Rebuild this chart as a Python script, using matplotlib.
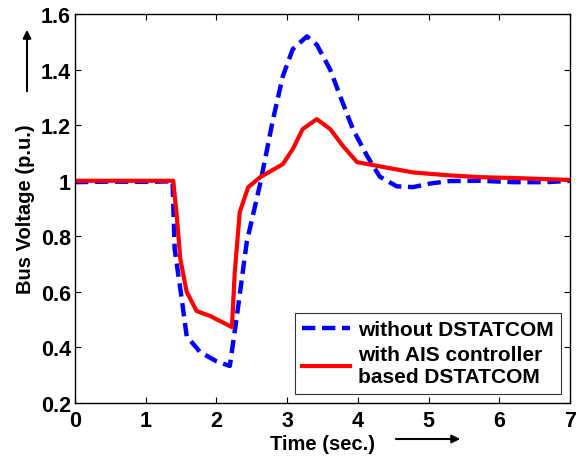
import matplotlib

matplotlib.use("Agg")
import matplotlib.pyplot as plt

plt.rcParams["font.family"] = ["Liberation Sans", "DejaVu Sans"]
plt.rcParams["font.weight"] = "bold"

# without DSTATCOM (blue dashed)
t_without = [0.0, 0.5, 1.0, 1.38, 1.41, 1.51, 1.58, 1.77, 2.0, 2.19, 2.29, 2.43, 2.62,
             2.8, 2.94, 3.08, 3.28, 3.42, 3.61, 3.75, 3.93, 4.13, 4.31, 4.55, 4.78,
             5.02, 5.3, 5.73, 6.2, 6.67, 7.0]
v_without = [0.995, 0.997, 0.996, 0.998, 0.754, 0.574, 0.44, 0.383, 0.35, 0.333, 0.513,
             0.78, 0.99, 1.22, 1.377, 1.474, 1.52, 1.49, 1.40, 1.305, 1.186, 1.09, 1.015,
             0.98, 0.977, 0.99, 0.999, 1.0, 0.995, 0.995, 1.0]

# with AIS controller based DSTATCOM (red solid)
t_with = [0.0, 0.5, 1.0, 1.39, 1.44, 1.49, 1.58, 1.72, 1.91, 2.05, 2.22, 2.26, 2.33,
          2.45, 2.62, 2.94, 3.08, 3.22, 3.42, 3.61, 3.79, 3.99, 4.31, 4.78, 5.26, 5.73,
          6.2, 7.0]
v_with = [1.0, 1.0, 1.0, 1.0, 0.873, 0.718, 0.6, 0.531, 0.513, 0.495, 0.473, 0.671, 0.887,
          0.977, 1.013, 1.06, 1.114, 1.186, 1.222, 1.186, 1.125, 1.067, 1.052, 1.03, 1.02,
          1.013, 1.01, 1.003]

x_ticks = [0, 1, 2, 3, 4, 5, 6, 7]
y_ticks = [0.2, 0.4, 0.6, 0.8, 1.0, 1.2, 1.4, 1.6]
y_tick_labels = ["0.2", "0.4", "0.6", "0.8", "1", "1.2", "1.4", "1.6"]

fig = plt.figure(figsize=(5.81, 4.6), dpi=100)
ax = fig.add_axes([0.129, 0.122, 0.852, 0.845])

ax.plot(t_without, v_without, color="#0000ff", linestyle=(0, (3, 1.5)), linewidth=3.2,
        label="without DSTATCOM")
ax.plot(t_with, v_with, color="#ff0000", linewidth=3,
        label="with AIS controller\nbased DSTATCOM")

ax.set_xlim(0, 7)
ax.set_ylim(0.2, 1.6)
ax.set_xticks(x_ticks)
ax.set_yticks(y_ticks)
ax.set_yticklabels(y_tick_labels)
ax.tick_params(axis="both", direction="in", top=True, right=True, labelsize=15.5,
               length=4, width=0.8)
ax.tick_params(axis="x", pad=5)
ax.tick_params(axis="y", pad=3)
for s in ax.spines.values():
    s.set_linewidth(1.0)

ax.set_xlabel("Time (sec.)", fontsize=14.5, fontweight="bold", labelpad=2)
ax.set_ylabel("Bus Voltage (p.u.)", fontsize=14.5, fontweight="bold", labelpad=4)

leg = ax.legend(loc="lower right", fontsize=15, frameon=True, fancybox=False,
                edgecolor="black", handlelength=2.3, handletextpad=0.35,
                borderaxespad=0.45, labelspacing=0.3, borderpad=0.35)
leg.get_frame().set_linewidth(0.8)

# arrows next to the axis labels
fig.add_artist(matplotlib.patches.FancyArrowPatch(
    (27 / 581, 1 - 95 / 460), (27 / 581, 1 - 28 / 460), transform=fig.transFigure,
    arrowstyle="-|>", mutation_scale=12, color="black", linewidth=1.5))
fig.add_artist(matplotlib.patches.FancyArrowPatch(
    (393 / 581, 1 - 440 / 460), (463 / 581, 1 - 440 / 460), transform=fig.transFigure,
    arrowstyle="-|>", mutation_scale=12, color="black", linewidth=1.5))

fig.savefig("out.png", dpi=100)
